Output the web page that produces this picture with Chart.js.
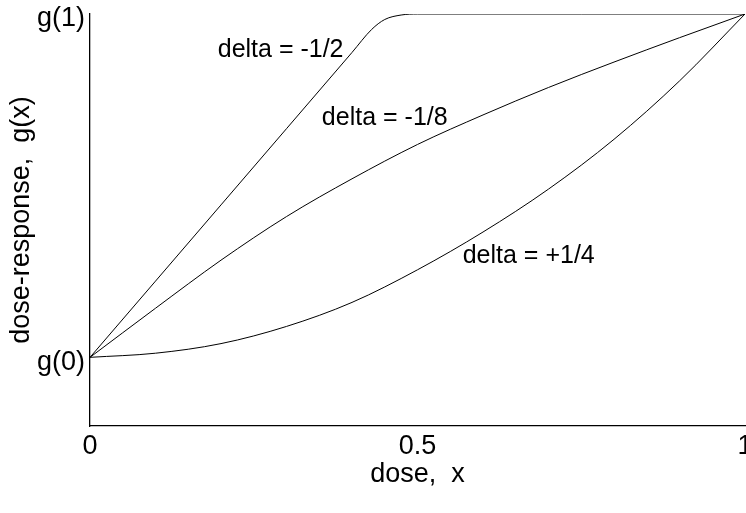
<!DOCTYPE html>
<html>
<head>
<meta charset="utf-8">
<script src="https://cdn.jsdelivr.net/npm/chart.js@4/dist/chart.umd.min.js"></script>
<style>
  html, body { margin: 0; padding: 0; background: #fff; }
  #wrap { width: 746px; height: 513px; }
</style>
</head>
<body>
<div id="wrap"><canvas id="c" width="746" height="513"></canvas></div>
<script>
// ── data ────────────────────────────────────────────────────
const halfX   = [0, 0.1, 0.2, 0.3, 0.4, 0.43, 0.45, 0.475, 0.5, 0.75, 1]
const halfY   = [0, 0.222, 0.444, 0.666, 0.888, 0.955, 0.984, 0.997, 1, 1, 1]
const eighthX = [0, 0.1, 0.2, 0.3, 0.4, 0.5, 0.6, 0.7, 0.8, 0.9, 1]
const eighthY = [0, 0.143, 0.283, 0.41, 0.52, 0.62, 0.706, 0.786, 0.86, 0.931, 1]
const quartX  = [0, 0.1, 0.2, 0.3, 0.4, 0.5, 0.6, 0.7, 0.8, 0.9, 1]
const quartY  = [0, 0.012, 0.04, 0.09, 0.16, 0.255, 0.365, 0.49, 0.635, 0.805, 1]

const xTicks = [0, 0.5, 1]
const yTicks = [0, 1]
const yTickLabels = ['g(0)', 'g(1)']

// curve labels: text, left edge x, middle y (data units)
const notes = [
  { t: 'delta = -1/2', x: 0.195, y: 0.895 },
  { t: 'delta = -1/8', x: 0.354, y: 0.697 },
  { t: 'delta = +1/4', x: 0.569, y: 0.294 },
]

const FONT = 'Liberation Sans, Arial, Helvetica, sans-serif'
const pts = (xs, ys) => xs.map((x, i) => ({ x, y: ys[i] }))
const line = (data) => ({
  data, showLine: true, borderColor: '#000', borderWidth: 1, pointRadius: 0,
  cubicInterpolationMode: 'monotone', fill: false,
})

const notePlugin = {
  id: 'notes',
  afterDatasetsDraw(chart) {
    const { ctx, scales: { x, y } } = chart
    ctx.save()
    ctx.fillStyle = '#000'
    ctx.font = `25px ${FONT}`
    ctx.textAlign = 'left'
    ctx.textBaseline = 'middle'
    notes.forEach(n => ctx.fillText(n.t, x.getPixelForValue(n.x), y.getPixelForValue(n.y)))
    ctx.restore()
  },
}

new Chart(document.getElementById('c'), {
  type: 'scatter',
  data: {
    datasets: [
      line(pts(halfX, halfY)),
      line(pts(eighthX, eighthY)),
      line(pts(quartX, quartY)),
    ],
  },
  options: {
    responsive: false, animation: false, maintainAspectRatio: false,
    layout: { padding: { top: 14, right: 1, left: 0, bottom: 0 } },
    plugins: { legend: { display: false }, tooltip: { enabled: false } },
    scales: {
      x: {
        type: 'linear', min: 0, max: 1,
        afterBuildTicks: s => { s.ticks = xTicks.map(v => ({ value: v })) },
        afterFit: s => { s.height = 87; s.paddingLeft = 0; s.paddingRight = 0 },
        grid: { display: false, drawTicks: false },
        border: { display: true, color: '#000', width: 1.3 },
        ticks: { color: '#000', font: { size: 27, family: FONT }, padding: 4,
          autoSkip: false, maxRotation: 0, callback: v => String(v) },
        title: { display: true, text: 'dose,  x', color: '#000',
          font: { size: 27, family: FONT }, padding: { top: 0, bottom: 22 } },
      },
      y: {
        type: 'linear', min: -0.2, max: 1,
        afterBuildTicks: s => { s.ticks = yTicks.map(v => ({ value: v })) },
        afterFit: s => { s.width = 90; s.paddingTop = 0; s.paddingBottom = 0 },
        grid: { display: false, drawTicks: false },
        border: { display: true, color: '#000', width: 1.3 },
        ticks: { color: '#000', font: { size: 27, family: FONT }, padding: 5,
          labelOffset: 5, autoSkip: false,
          callback: (v) => yTickLabels[yTicks.indexOf(v)] },
        title: { display: true, text: 'dose-response,  g(x)', color: '#000',
          font: { size: 27, family: FONT }, padding: { top: 5, bottom: 0 } },
      },
    },
  },
  plugins: [notePlugin],
})
</script>
</body>
</html>
